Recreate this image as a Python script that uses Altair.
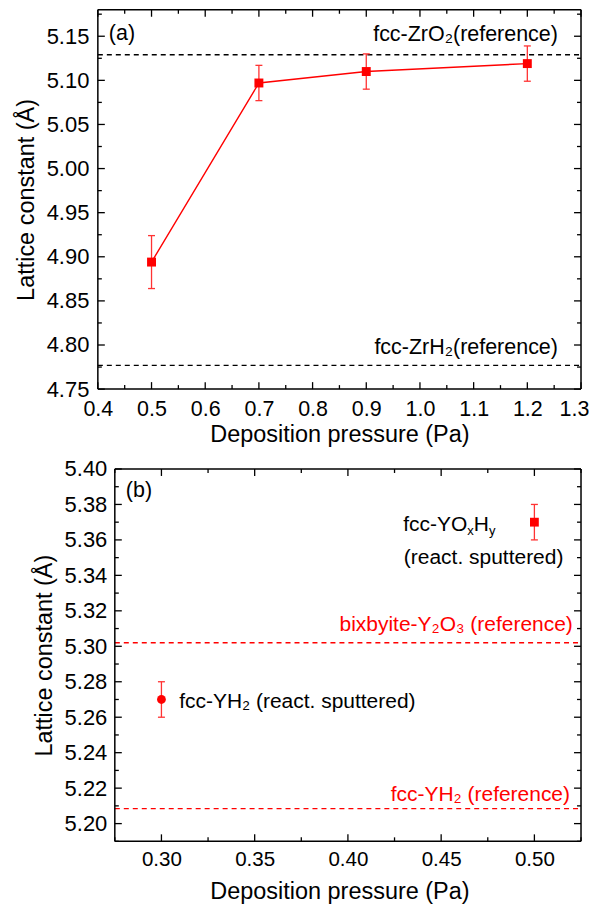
import altair as alt
import pandas as pd

FONT = "Liberation Sans"
RED = "#ff0000"

# ---------------- Panel (a) data ----------------
a_pressure = [0.5, 0.7, 0.9, 1.2]
a_lattice = [4.894, 5.097, 5.110, 5.119]
a_err = [0.030, 0.020, 0.020, 0.020]
a_ref_values = [5.129, 4.777]
a_ref_labels = ["fcc-ZrO₂(reference)", "fcc-ZrH₂(reference)"]
a_ref_label_x = [1.257, 1.257]
a_ref_label_y = [5.151, 4.797]
a_panel_label = ["(a)"]
a_panel_label_x = [0.4205]
a_panel_label_y = [5.152]
a_x_domain = [0.4, 1.3]
a_y_domain = [4.75, 5.18]
a_x_major = [0.4, 0.5, 0.6, 0.7, 0.8, 0.9, 1.0, 1.1, 1.2, 1.3]
a_x_minor = [0.45, 0.55, 0.65, 0.75, 0.85, 0.95, 1.05, 1.15, 1.25]
a_y_major = [4.75, 4.80, 4.85, 4.90, 4.95, 5.00, 5.05, 5.10, 5.15]
a_y_minor = [4.775, 4.825, 4.875, 4.925, 4.975, 5.025, 5.075, 5.125, 5.175]

# ---------------- Panel (b) data ----------------
b_pressure = [0.30, 0.50]
b_lattice = [5.270, 5.370]
b_err = [0.010, 0.010]
b_shape = ["circle", "square"]
b_ref_values = [5.302, 5.2085]
b_ref_labels = ["bixbyite-Y₂O₃ (reference)", "fcc-YH₂ (reference)"]
b_ref_label_x = [0.5206, 0.5191]
b_ref_label_y = [5.3118, 5.2164]
b_note_labels = ["fcc-YH₂ (react. sputtered)", "(react. sputtered)"]
b_note_x = [0.3095, 0.4300]
b_note_y = [5.2683, 5.3496]
b_formula_parts = ["fcc-YO", "x", "H", "y"]   # fcc-YOxHy with subscripts
b_formula_x = [0.4297]
b_formula_y = [5.3684]
b_panel_label = ["(b)"]
b_panel_label_x = [0.2809]
b_panel_label_y = [5.3873]
b_x_domain = [0.275, 0.525]
b_y_domain = [5.19, 5.40]
b_x_major = [0.30, 0.35, 0.40, 0.45, 0.50]
b_x_minor = [0.275, 0.325, 0.375, 0.425, 0.475, 0.525]
b_y_major = [5.20, 5.22, 5.24, 5.26, 5.28, 5.30, 5.32, 5.34, 5.36, 5.38, 5.40]
b_y_minor = [5.19, 5.21, 5.23, 5.25, 5.27, 5.29, 5.31, 5.33, 5.35, 5.37, 5.39]

W, H_A, H_B = 484, 380, 373
B_INDENT = 17          # panel (b) frame starts this many px right of panel (a)
MAJOR, MINOR = 7, 4
PX_PER_UNIT_B = (W - B_INDENT) / (b_x_domain[1] - b_x_domain[0])
b_view_domain = [b_x_domain[0] - B_INDENT / PX_PER_UNIT_B, b_x_domain[1]]


def x_axis(values, fmt, lfs, lpad, tpad, last=None):
    extra = {}
    if last is not None:
        extra["labelOffset"] = alt.condition(f"datum.value >= {last}", alt.value(-7), alt.value(0))
    return alt.Axis(values=values, format=fmt, title="Deposition pressure (Pa)",
                    labelFont=FONT, labelFontSize=lfs, labelColor="black",
                    labelPadding=lpad, labelFlush=False, labelOverlap=False,
                    ticks=False, tickSize=0, domain=False, grid=False,
                    titleFont=FONT, titleFontSize=23.5, titleFontWeight="normal",
                    titleColor="black", titlePadding=tpad, **extra)


def y_axis(values, fmt, lfs, lpad, tpad, offset=0):
    return alt.Axis(values=values, format=fmt, title="Lattice constant (Å)",
                    labelFont=FONT, labelFontSize=lfs, labelColor="black",
                    labelPadding=lpad, labelFlush=False, labelOverlap=False,
                    ticks=False, tickSize=0, domain=False, grid=False, offset=offset,
                    titleFont=FONT, titleFontSize=23.5, titleFontWeight="normal",
                    titleColor="black", titlePadding=tpad)


class Panel:
    def __init__(self, xs, ys, xax, yax, h, xframe, yframe, indent):
        self.xs, self.ys, self.xax, self.yax = xs, ys, xax, yax
        self.h, self.xf, self.yf, self.indent = h, xframe, yframe, indent

    def X(self, field):
        return alt.X(field, scale=self.xs, axis=self.xax)

    def Y(self, field):
        return alt.Y(field, scale=self.ys, axis=self.yax)


def frame_layers(P):
    vert = alt.Chart(pd.DataFrame({"x": P.xf})).mark_rule(color="black", strokeWidth=1.5).encode(
        x=P.X("x:Q"))
    horiz = alt.Chart(pd.DataFrame({"y": P.yf, "x0": [P.xf[0]] * 2, "x1": [P.xf[1]] * 2})).mark_rule(
        color="black", strokeWidth=1.5).encode(x=P.X("x0:Q"), x2="x1:Q", y=P.Y("y:Q"))
    return [vert, horiz]


def tick_layers(P, xmaj, xmin, ymaj, ymin):
    layers = []
    for vals, L in ((ymaj, MAJOR), (ymin, MINOR)):
        for edge, end in ((P.xf[0], P.indent + L), (P.xf[1], W - L)):
            df = pd.DataFrame({"y": vals, "x": [edge] * len(vals)})
            layers.append(alt.Chart(df).mark_rule(color="black", strokeWidth=1.3).encode(
                x=P.X("x:Q"), x2=alt.value(end), y=P.Y("y:Q")))
    for vals, L in ((xmaj, MAJOR), (xmin, MINOR)):
        for edge, end in ((P.yf[0], P.h - L), (P.yf[1], L)):
            df = pd.DataFrame({"x": vals, "y": [edge] * len(vals)})
            layers.append(alt.Chart(df).mark_rule(color="black", strokeWidth=1.3).encode(
                x=P.X("x:Q"), y=P.Y("y:Q"), y2=alt.value(end)))
    return layers


def ref_layer(P, values, color):
    df = pd.DataFrame({"ref": values, "x0": [P.xf[0]] * len(values), "x1": [P.xf[1]] * len(values)})
    return alt.Chart(df).mark_rule(color=color, strokeDash=[5, 4], strokeWidth=1.3).encode(
        x=P.X("x0:Q"), x2="x1:Q", y=P.Y("ref:Q"))


def error_layers(P, px, py, pe):
    df = pd.DataFrame({"x": px, "lo": [v - e for v, e in zip(py, pe)],
                       "hi": [v + e for v, e in zip(py, pe)]})
    bars = alt.Chart(df).mark_rule(color="#ff3333", strokeWidth=1.3).encode(
        x=P.X("x:Q"), y=P.Y("lo:Q"), y2="hi:Q")
    caps_df = pd.DataFrame({"x": px * 2, "y": list(df["lo"]) + list(df["hi"])})
    caps = alt.Chart(caps_df).mark_tick(orient="horizontal", size=7, thickness=1.3,
                                        color="#ff3333", opacity=1).encode(
        x=P.X("x:Q"), y=P.Y("y:Q"))
    return [bars, caps]


def text_layer(P, labels, lx, ly, align, color, size=21.5, dx=0, dy=0):
    df = pd.DataFrame({"x": lx, "y": ly, "t": labels})
    return alt.Chart(df).mark_text(align=align, baseline="middle", font=FONT,
                                   fontSize=size, color=color, dx=dx, dy=dy).encode(
        x=P.X("x:Q"), y=P.Y("y:Q"), text="t:N")


# ---------------- Panel (a) ----------------
PA = Panel(alt.Scale(domain=a_x_domain, nice=False, zero=False),
           alt.Scale(domain=a_y_domain, nice=False, zero=False),
           x_axis(a_x_major, ".1f", 21.5, 9, 3, last=1.29),
           y_axis(a_y_major, ".2f", 22, 9, 8),
           H_A, a_x_domain, a_y_domain, 0)

df_a = pd.DataFrame({"p": a_pressure, "a": a_lattice})
line_a = alt.Chart(df_a).mark_line(color=RED, strokeWidth=1.4).encode(
    x=PA.X("p:Q"), y=PA.Y("a:Q"))
pts_a = alt.Chart(df_a).mark_square(color=RED, size=80, opacity=1).encode(
    x=PA.X("p:Q"), y=PA.Y("a:Q"))

panel_a = alt.layer(
    ref_layer(PA, a_ref_values, "black"), line_a,
    *error_layers(PA, a_pressure, a_lattice, a_err),
    pts_a,
    text_layer(PA, a_ref_labels, a_ref_label_x, a_ref_label_y, "right", "black"),
    text_layer(PA, a_panel_label, a_panel_label_x, a_panel_label_y, "left", "black"),
    *tick_layers(PA, a_x_major, a_x_minor, a_y_major, a_y_minor),
    *frame_layers(PA),
).properties(width=W, height=H_A)

# ---------------- Panel (b) ----------------
PB = Panel(alt.Scale(domain=b_view_domain, nice=False, zero=False),
           alt.Scale(domain=b_y_domain, nice=False, zero=False),
           x_axis(b_x_major, ".2f", 20.6, 8, 9.5),
           y_axis(b_y_major, ".2f", 22, 8, 8, offset=-B_INDENT),
           H_B, b_x_domain, b_y_domain, B_INDENT)

df_b = pd.DataFrame({"p": b_pressure, "a": b_lattice, "shape": b_shape})
pts_b = alt.Chart(df_b).mark_point(color=RED, filled=True, size=78, opacity=1).encode(
    x=PB.X("p:Q"), y=PB.Y("a:Q"), shape=alt.Shape("shape:N", scale=None))

FS = 21
SUB = 13
w_fccyo = (0.278 + 0.5 + 0.5 + 0.333 + 0.667 + 0.778) * FS
w_x = 0.5 * SUB
w_h = 0.722 * FS
formula = [
    text_layer(PB, [b_formula_parts[0]], b_formula_x, b_formula_y, "left", "black", FS),
    text_layer(PB, [b_formula_parts[1]], b_formula_x, b_formula_y, "left", "black", SUB,
               dx=w_fccyo, dy=6),
    text_layer(PB, [b_formula_parts[2]], b_formula_x, b_formula_y, "left", "black", FS,
               dx=w_fccyo + w_x),
    text_layer(PB, [b_formula_parts[3]], b_formula_x, b_formula_y, "left", "black", SUB,
               dx=w_fccyo + w_x + w_h, dy=6),
]

panel_b = alt.layer(
    ref_layer(PB, b_ref_values, RED),
    *error_layers(PB, b_pressure, b_lattice, b_err),
    pts_b,
    text_layer(PB, b_ref_labels, b_ref_label_x, b_ref_label_y, "right", RED, FS),
    text_layer(PB, b_note_labels, b_note_x, b_note_y, "left", "black", FS),
    *formula,
    text_layer(PB, b_panel_label, b_panel_label_x, b_panel_label_y, "left", "black"),
    *tick_layers(PB, b_x_major, b_x_minor, b_y_major, b_y_minor),
    *frame_layers(PB),
).properties(width=W, height=H_B)

chart = alt.concat(panel_a, panel_b, columns=1, spacing=12).properties(
    padding={"left": 6, "top": 0, "right": 0, "bottom": 0}
).configure_view(stroke=None)

chart.save("out.html", embed_options={"renderer": "svg", "actions": False})
